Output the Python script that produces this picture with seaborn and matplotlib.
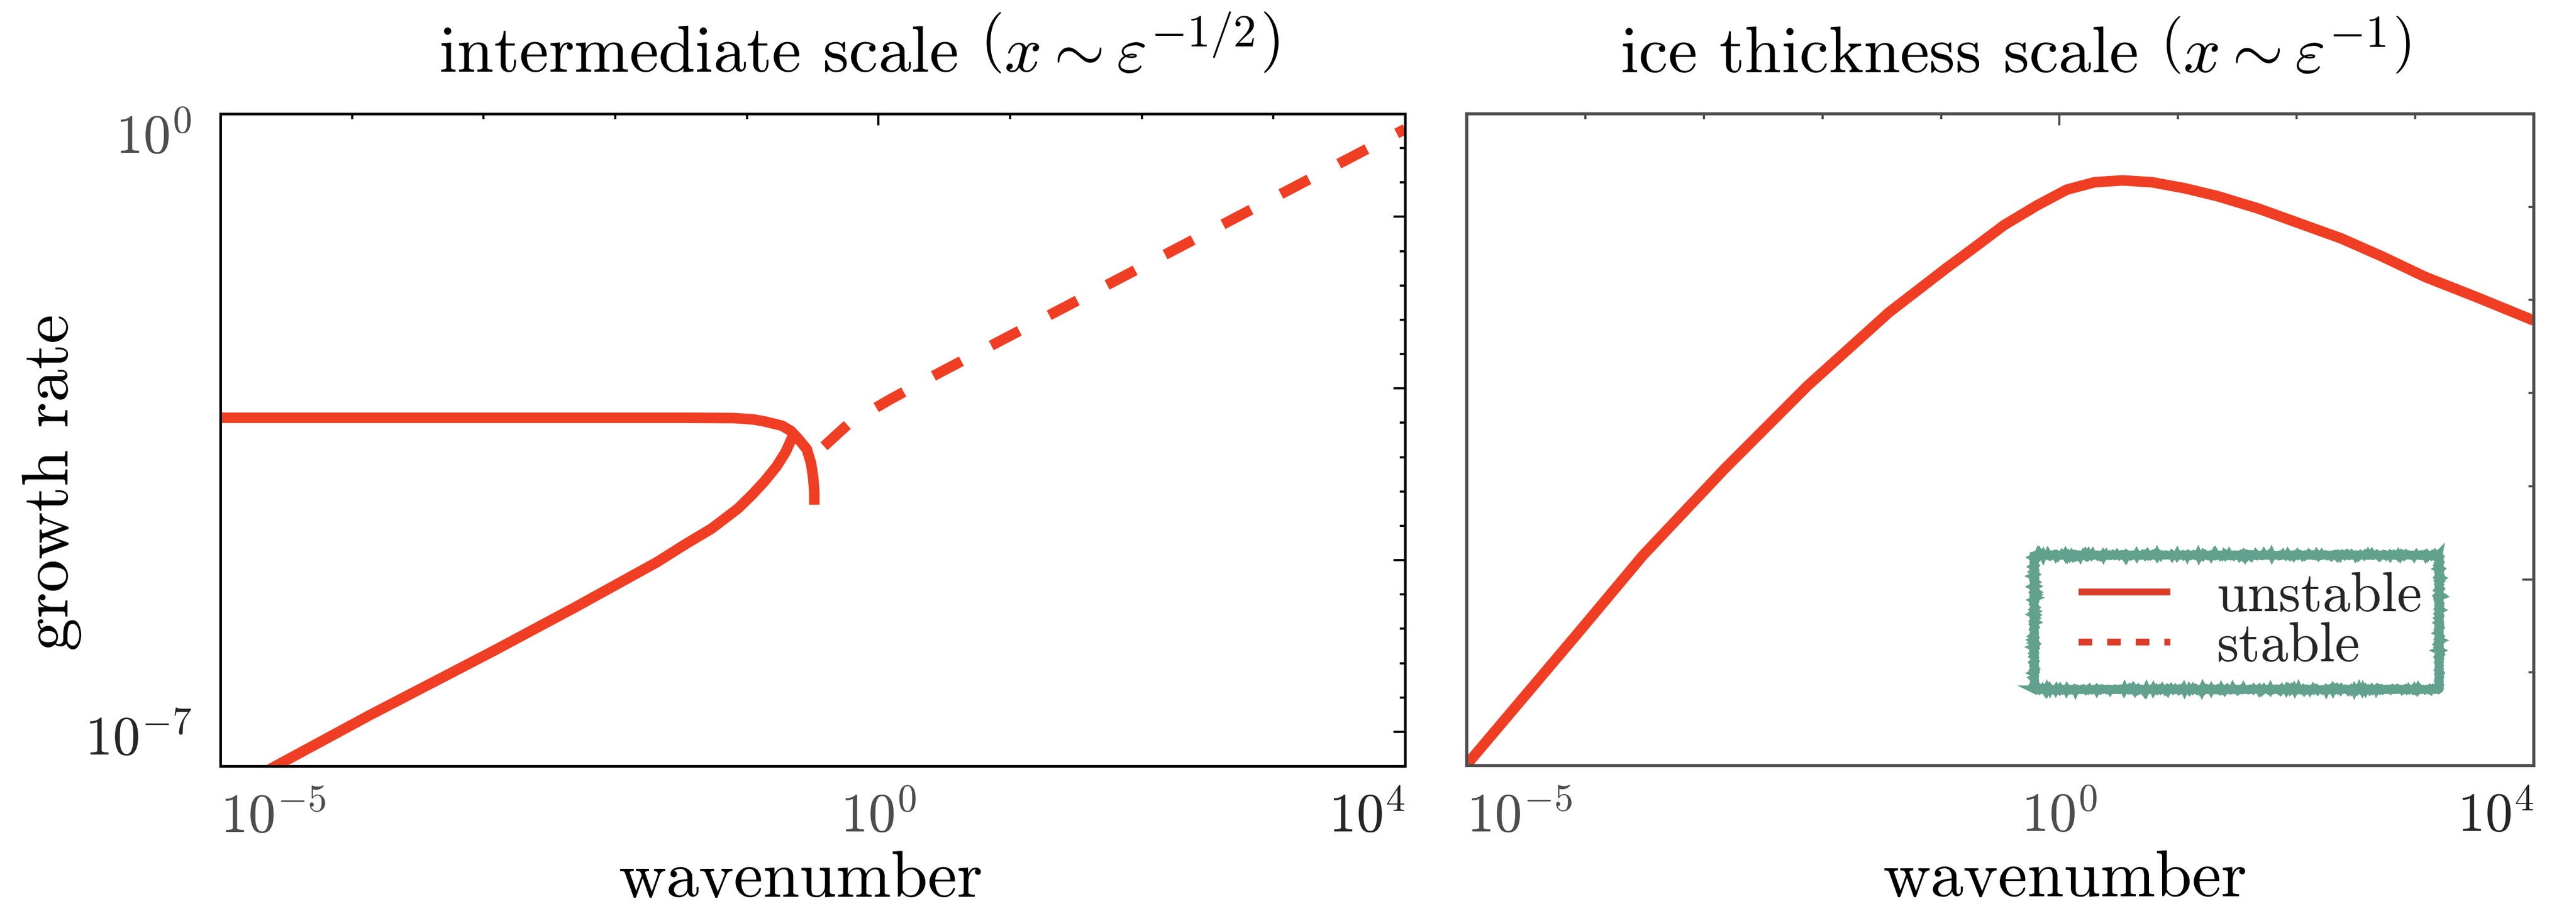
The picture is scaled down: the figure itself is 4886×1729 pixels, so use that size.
import numpy as np
import matplotlib
matplotlib.use("Agg")
import matplotlib.pyplot as plt
import seaborn as sns
from matplotlib.lines import Line2D
from matplotlib.legend_handler import HandlerLine2D
from matplotlib.ticker import FixedLocator, FixedFormatter, NullFormatter

# ---------------- data (log10 values) ----------------
# left panel, unstable lower branch (from bottom-left up to the turning point)
lower_log_k = [-4.632, -4.551, -3.870, -2.929, -2.308, -1.684, -1.467, -1.267,
               -1.067, -0.959, -0.867, -0.774, -0.706, -0.666, -0.646]
lower_log_rate = [-7.040, -6.977, -6.457, -5.767, -5.298, -4.812, -4.619,
                  -4.450, -4.235, -4.085, -3.945, -3.783, -3.630, -3.506, -3.432]
# left panel, unstable upper branch (plateau) continuing into the short hook
upper_log_k = [-5.0, -3.0, -1.5, -1.1, -0.95, -0.867, -0.734, -0.666, -0.613,
               -0.544, -0.512, -0.496, -0.488, -0.488]
upper_log_rate = [-3.262, -3.262, -3.262, -3.265, -3.28, -3.301, -3.347,
                  -3.403, -3.482, -3.601, -3.754, -3.907, -4.054, -4.195]
# left panel, stable branch
stable_log_k = [-0.414, -0.30, -0.220, 0.093, 0.466, 1.0, 2.0, 3.0, 4.0]
stable_log_rate = [-3.568, -3.42, -3.318, -3.061, -2.776, -2.381, -1.642,
                   -0.903, -0.164]
# right panel, ice thickness scale (unstable)
ice_log_k = [-5.02, -4.062, -3.515, -2.822, -2.129, -1.437, -0.952, -0.744,
             -0.467, -0.190, 0.060, 0.295, 0.531, 0.780, 1.057, 1.334, 1.680,
             2.026, 2.373, 2.719, 3.084, 3.523, 3.972, 4.0]
ice_log_rate = [-7.02, -5.577, -4.745, -3.809, -2.926, -2.131, -1.655, -1.460,
                -1.195, -0.984, -0.815, -0.735, -0.715, -0.735, -0.800, -0.885,
                -1.019, -1.178, -1.337, -1.531, -1.752, -1.972, -2.206, -2.22]

x_tick_labels = [r"$10^{-5}$", r"$10^{0}$", r"$10^{4}$"]
y_tick_labels = [r"$10^{-7}$", r"$10^{0}$"]
legend_labels = ["unstable", "stable"]
titles = [r"intermediate scale $\left(x\sim\varepsilon^{-1/2}\right)$",
          r"ice thickness scale $\left(x\sim\varepsilon^{-1}\right)$"]

RED = "#ef3e23"
LEG_RED = "#dc3d2a"
GREEN = "#62a18d"
LABEL_GREY = "#4d4d4d"
LABEL_DARK = "#262626"

sns.set_theme(style="white")
plt.rcParams.update({
    "font.family": ["cmr10", "DejaVu Serif"],
    "mathtext.fontset": "cm",
    "axes.unicode_minus": False,
    "axes.formatter.use_mathtext": True,
})

W, H, DPI = 4886, 1729, 300
fig = plt.figure(figsize=(W / DPI, H / DPI), dpi=DPI)
fig.patch.set_facecolor("white")
ax1 = fig.add_axes([418 / W, 1 - 1454 / H, 2247 / W, 1238 / H])
ax2 = fig.add_axes([2782 / W, 1 - 1453 / H, 2024 / W, 1237 / H])

for ax in (ax1, ax2):
    ax.set_xscale("log")
    ax.set_yscale("log")
    ax.set_xlim(1e-5, 1e4)
    ax.set_ylim(1e-7, 1e0)
    ax.set_facecolor("white")
    ax.grid(False)

LW = 4.8
# ---------------- left panel ----------------
sns.lineplot(x=10.0 ** np.array(lower_log_k), y=10.0 ** np.array(lower_log_rate),
             ax=ax1, sort=False, estimator=None, color=RED, lw=LW,
             solid_capstyle="butt", solid_joinstyle="round")
sns.lineplot(x=10.0 ** np.array(upper_log_k), y=10.0 ** np.array(upper_log_rate),
             ax=ax1, sort=False, estimator=None, color=RED, lw=LW,
             solid_capstyle="butt", solid_joinstyle="round")
sns.lineplot(x=10.0 ** np.array(stable_log_k), y=10.0 ** np.array(stable_log_rate),
             ax=ax1, sort=False, estimator=None, color=RED, lw=LW,
             linestyle=(0, (3.0, 3.2)), dash_capstyle="butt")

# ---------------- right panel ----------------
sns.lineplot(x=10.0 ** np.array(ice_log_k), y=10.0 ** np.array(ice_log_rate),
             ax=ax2, sort=False, estimator=None, color=RED, lw=LW,
             solid_capstyle="butt", solid_joinstyle="round")

# ---------------- axes styling ----------------
def style(ax, color, spine_w):
    for s in ax.spines.values():
        s.set_visible(True)
        s.set_color(color)
        s.set_linewidth(spine_w)
    ax.tick_params(which="both", direction="in", top=True, right=True,
                   color=color, width=1.0, labelsize=25, labelcolor=LABEL_GREY)
    ax.tick_params(which="major", length=5.3)
    ax.tick_params(which="minor", length=2.4)
    ax.tick_params(axis="x", which="both", pad=12)
    ax.tick_params(axis="y", which="both", pad=13)
    ax.xaxis.set_major_locator(FixedLocator([1e-5, 1e0, 1e4]))
    ax.xaxis.set_major_formatter(FixedFormatter(x_tick_labels))
    ax.xaxis.set_minor_locator(FixedLocator([1e-4, 1e-3, 1e-2, 1e-1, 1e1, 1e2, 1e3]))
    ax.xaxis.set_minor_formatter(NullFormatter())
    xt = ax.xaxis.get_major_ticks()
    xt[0].label1.set_horizontalalignment("left")
    xt[-1].label1.set_horizontalalignment("right")
    xt[-1].label1.set_color(LABEL_DARK)
    for t in (xt[0], xt[-1]):
        t.tick1line.set_visible(False)
        t.tick2line.set_visible(False)

style(ax1, "black", 1.2)
style(ax2, "#4d4d4d", 1.4)

# left y ticks: evenly spaced in log, long every 5th
ymaj = [1e-7] + [10 ** (-7 + 7 * i / 19) for i in (1, 6, 11, 16)] + [1e0]
ymin = [10 ** (-7 + 7 * i / 19) for i in range(1, 19) if i not in (1, 6, 11, 16)]
ax1.yaxis.set_major_locator(FixedLocator(ymaj))
ax1.yaxis.set_major_formatter(FixedFormatter([y_tick_labels[0], "", "", "", "", y_tick_labels[1]]))
ax1.yaxis.set_minor_locator(FixedLocator(ymin))
ax1.yaxis.set_minor_formatter(NullFormatter())
yt = ax1.yaxis.get_major_ticks()
yt[0].label1.set_verticalalignment("bottom")
yt[0].label1.set_color(LABEL_DARK)
yt[-1].label1.set_verticalalignment("top")
for t in (yt[0], yt[-1]):
    t.tick1line.set_visible(False)
    t.tick2line.set_visible(False)

# right y ticks: one per decade, long at 1e-5, no labels
ax2.yaxis.set_major_locator(FixedLocator([1e-5]))
ax2.yaxis.set_minor_locator(FixedLocator([1e-6, 1e-4, 1e-3, 1e-2, 1e-1]))
ax2.yaxis.set_minor_formatter(NullFormatter())
ax2.tick_params(axis="y", labelleft=False)

# ---------------- texts ----------------
ax1.set_title(titles[0], fontsize=30, x=0.539, y=1.064, pad=0, color="black")
ax2.set_title(titles[1], fontsize=30, x=0.514, y=1.064, pad=0, color="black")
ax1.set_xlabel("wavenumber", fontsize=30, color="black")
ax2.set_xlabel("wavenumber", fontsize=30, color="black")
ax1.xaxis.set_label_coords(0.49, -0.13)
ax2.xaxis.set_label_coords(0.561, -0.13)
ax1.set_ylabel("growth rate", fontsize=30, color="black")
ax1.yaxis.set_label_coords(-0.117, 0.435)

# ---------------- legend ----------------
handles = [Line2D([], [], color=LEG_RED, lw=3.1, solid_capstyle="butt"),
           Line2D([], [], color=LEG_RED, lw=3.1, linestyle=(0, (2.0, 2.2)),
                  dash_capstyle="butt")]
XPAD = 0.49
leg = ax2.legend(handles, legend_labels, loc="lower left",
                 bbox_to_anchor=(0.5316, 0.1172), borderaxespad=0, fontsize=25.5,
                 frameon=True, fancybox=False, edgecolor=GREEN,
                 handlelength=1.64 + XPAD, handletextpad=0.83, borderpad=0.30,
                 labelspacing=0.0,
                 handler_map={h: HandlerLine2D(xpad=XPAD) for h in handles})
frame = leg.get_frame()
frame.set_linewidth(3.6)
frame.set_facecolor("white")
frame.set_alpha(1.0)
frame.set_sketch_params(scale=1.2, length=5, randomness=3)

fig.savefig("out.png", dpi=DPI, facecolor="white")
